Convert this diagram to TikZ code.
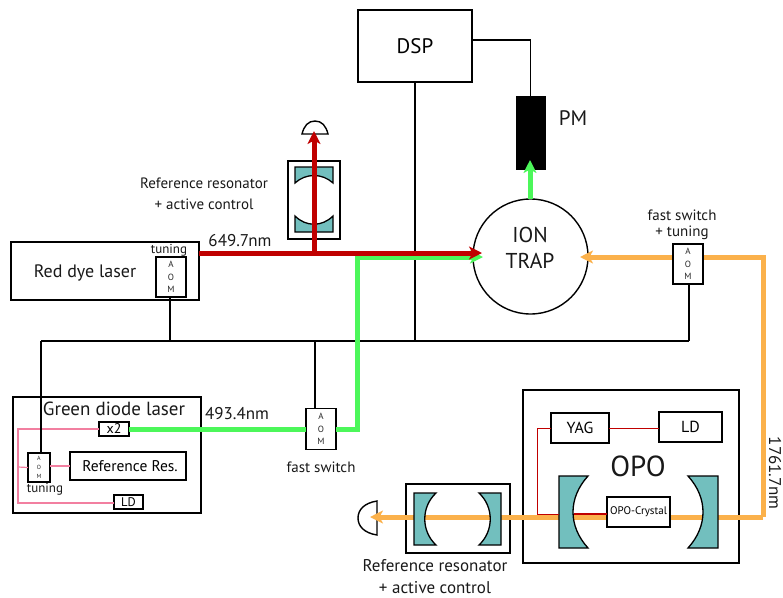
\documentclass[tikz,border=0pt]{standalone}
\usepackage{fontspec}
\setmainfont{PT Sans}
\usetikzlibrary{arrows.meta,calc}
\definecolor{teal1}{HTML}{72BFBE}
\definecolor{redb}{HTML}{C00000}
\definecolor{greenb}{HTML}{4CF75A}
\definecolor{orangeb}{HTML}{FBB14B}
\definecolor{pinkb}{HTML}{F27FA0}
\newcommand{\fs}[1]{\fontsize{#1}{#1}\selectfont}
\tikzset{
  x=1pt,y=-1pt,
  box/.style={draw=black,line width=1.5pt,fill=white,inner sep=0pt,outer sep=0pt},
  thinbox/.style={box,line width=1.3pt},
  wire/.style={draw=black,line width=1.3pt},
  mirror/.style={draw=black,line width=1.3pt,fill=teal1},
  pinkw/.style={draw=pinkb,line width=1.2pt},
  redw/.style={draw=redb,line width=1pt},
  beam/.style={line width=5pt},
  tip/.style={-{Stealth[length=13pt,width=13pt,inset=3.5pt]}},
  lab/.style={inner sep=0pt,outer sep=0pt,align=center,text=black!90},
  aomb/.style={thinbox,align=center,text=black!85,font=\fs{9}},
  det/.style={draw=black,line width=1.4pt,fill=white},
}
\begin{document}
\begin{tikzpicture}
\useasboundingbox (0,0) rectangle (783,597);

% outer boxes
\node[box,minimum width=114pt,minimum height=72pt,font=\fs{21}] (dsp) at (415,46) {DSP};
\node[box,minimum width=188pt,minimum height=58pt] (red) at (105,271) {};
\node[lab,font=\fs{18}] (redt) at (85,273) {Red dye laser};
\node[box,minimum width=188pt,minimum height=116pt] (green) at (107,455) {};
\node[box,minimum width=216pt,minimum height=173pt] (opo) at (631,476.5) {};
\node[box,minimum width=52pt,minimum height=78pt] (res1) at (314,200) {};
\node[box,minimum width=104pt,minimum height=69pt] (res2) at (458,518.5) {};

% control wiring
\node[draw=black,fill=black,inner sep=0pt,minimum width=29pt,minimum height=73pt] (pm) at (530.5,132.5) {};
\node[lab,font=\fs{21}] (pmt) at (573,118) {PM};
\coordinate (bus1) at (41,341);
\coordinate (bus2) at (689,341);
\coordinate (dspout) at (472,40);
\coordinate (dspdown) at (415,82);
\coordinate (busd) at (415,341);
\coordinate (aomg) at (315,341);
\coordinate (aomr) at (170,341);

\coordinate (bL) at (370,517);
\coordinate (bC) at (763,517);
\coordinate (bU) at (763,257);
\node[circle,draw=black,line width=1.4pt,minimum size=115pt,inner sep=0pt,outer sep=0pt,fill=white] (ion) at (530.5,256.5) {};
\node[lab,font=\fs{21.5}] (iont) at (530,248) {ION\\[4.5pt]TRAP};

\draw[wire] (dspout) -| (pm.north);
\draw[wire] (dspdown) -- (busd);
\draw[wire] (bus1) -- (bus2);

% detectors
\draw[det] (302,134) .. controls (304,126) and (308,121) .. (315,121) .. controls (322,121) and (326,126) .. (328,134) -- cycle;
\draw[det] (377,501) .. controls (364,503) and (358,510) .. (358,518) .. controls (358,526) and (364,533) .. (377,535) -- cycle;

% orange beam
\draw[beam,orangeb] (bC) -- (bU) -- (673,257);
\draw[beam,orangeb,tip] (675,257) -- (580,257);
\draw[beam,orangeb,tip] (bC) -- (bL);

% top resonator mirrors
\draw[mirror] (295,167) -- (333,167) -- (333,183) .. controls (322,173) and (306,173) .. (295,183) -- cycle;
\draw[mirror] (295,232) -- (333,232) -- (333,216) .. controls (322,227) and (306,227) .. (295,216) -- cycle;
% lower resonator mirrors
\draw[mirror] (414,493) -- (436,493) .. controls (421,507) and (421,531) .. (436,545) -- (414,545) -- cycle;
\draw[mirror] (501,493) -- (479,493) .. controls (494,507) and (494,531) .. (479,545) -- (501,545) -- cycle;
% OPO mirrors
\draw[mirror] (559,476) -- (588,476) .. controls (568,498) and (568,526) .. (588,548) -- (559,548) -- cycle;
\draw[mirror] (718,476) -- (688,476) .. controls (708,498) and (708,526) .. (688,548) -- (718,548) -- cycle;

% OPO contents
\node[thinbox,minimum width=58pt,minimum height=30pt,font=\fs{16}] (yag) at (580,428) {YAG};
\node[thinbox,minimum width=63pt,minimum height=30pt,font=\fs{16}] (ld1) at (690.5,427) {LD};
\node[thinbox,minimum width=63pt,minimum height=30pt,font=\fs{11}] (crys) at (638.5,512) {OPO-Crystal};
\node[lab,font=\fs{29}] (opot) at (638,466) {OPO};
\draw[redw] (yag.east) -- (ld1.west |- yag.east);
\draw[redw] (yag.west) -- (537,428) -- (537,514) -- (559,514);
\draw[redw,line width=1.6pt] (574,514) -- (crys.west |- 0,514);

% AOMs
\node[aomb,minimum width=30pt,minimum height=40pt] (aom3) at (688,264) {A\\[3.5pt]O\\[3.5pt]M};
\node[aomb,minimum width=30pt,minimum height=40pt] (aom1) at (171,277) {A\\[3.5pt]O\\[3.5pt]M};
\node[aomb,minimum width=30pt,minimum height=41pt] (aom2) at (321,429) {A\\[3.5pt]O\\[3.5pt]M};
\draw[wire] (aom3.south -| bus2) -- (bus2);
\draw[wire] (aom1.south -| aomr) -- (aomr);
\draw[wire] (aomg) -- (aom2.north -| aomg);

% green laser contents
\node[thinbox,minimum width=30pt,minimum height=14pt,font=\fs{14}] (x2) at (114,429) {x2};
\node[thinbox,minimum width=116pt,minimum height=28pt,font=\fs{15.5}] (rr) at (128,466) {\hspace{4pt}Reference Res.};
\node[thinbox,minimum width=29pt,minimum height=14pt,font=\fs{12.5}] (ld2) at (128.5,502) {LD};
\node[aomb,minimum width=22pt,minimum height=29pt,font=\fs{6}] (aom4) at (39,467.5) {A\\[2.7pt]O\\[2.7pt]M};
\draw[pinkw] (x2.west) -- (18,429) -- (18,503) -- (ld2.west |- 0,503);
\draw[pinkw] (18,467) -- (aom4.west);
\draw[pinkw] (aom4.east |- rr.west) -- (rr.west);
\draw[wire] (bus1) -- (aom4.north -| bus1);

% green beam
\draw[beam,greenb] (x2.east) -- (aom2.west);
\draw[beam,greenb] (aom2.east) -- (357,429) -- (357,257) -- (470,257);
\draw[beam,greenb,tip] (468,257) -- (483,257);
\draw[beam,greenb,tip] (530,199) -- (530,160);
% red beam
\draw[beam,redb] (red.east |- 0,253) -- (470,253);
\draw[beam,redb,tip] (468,253) -- (482,253);
\draw[beam,redb,tip] (314,253) -- (314,131);

% labels
\node[lab,font=\fs{15}] (l1) at (204,194) {Reference resonator\\[5.5pt]+ active control};
\node[lab,font=\fs{17}] (l2) at (435,576.5) {Reference resonator\\[4.5pt]+ active control};
\node[lab,font=\fs{17}] (l3) at (240,241) {649.7nm};
\node[lab,font=\fs{17}] (l4) at (237,414) {493.4nm};
\node[lab,font=\fs{17},rotate=-90] (l5) at (775,473) {1761.7nm};
\node[lab,font=\fs{13}] (l6) at (169,250) {tuning};
\node[lab,font=\fs{15}] (l7) at (321,467) {fast switch};
\node[lab,font=\fs{15}] (l8) at (682,225) {fast switch\\[1pt]+ tuning};
\node[lab,font=\fs{13}] (l9) at (45,489) {tuning};
\node[lab,font=\fs{19}] (l10) at (114,409) {Green diode laser};
\end{tikzpicture}
\end{document}
